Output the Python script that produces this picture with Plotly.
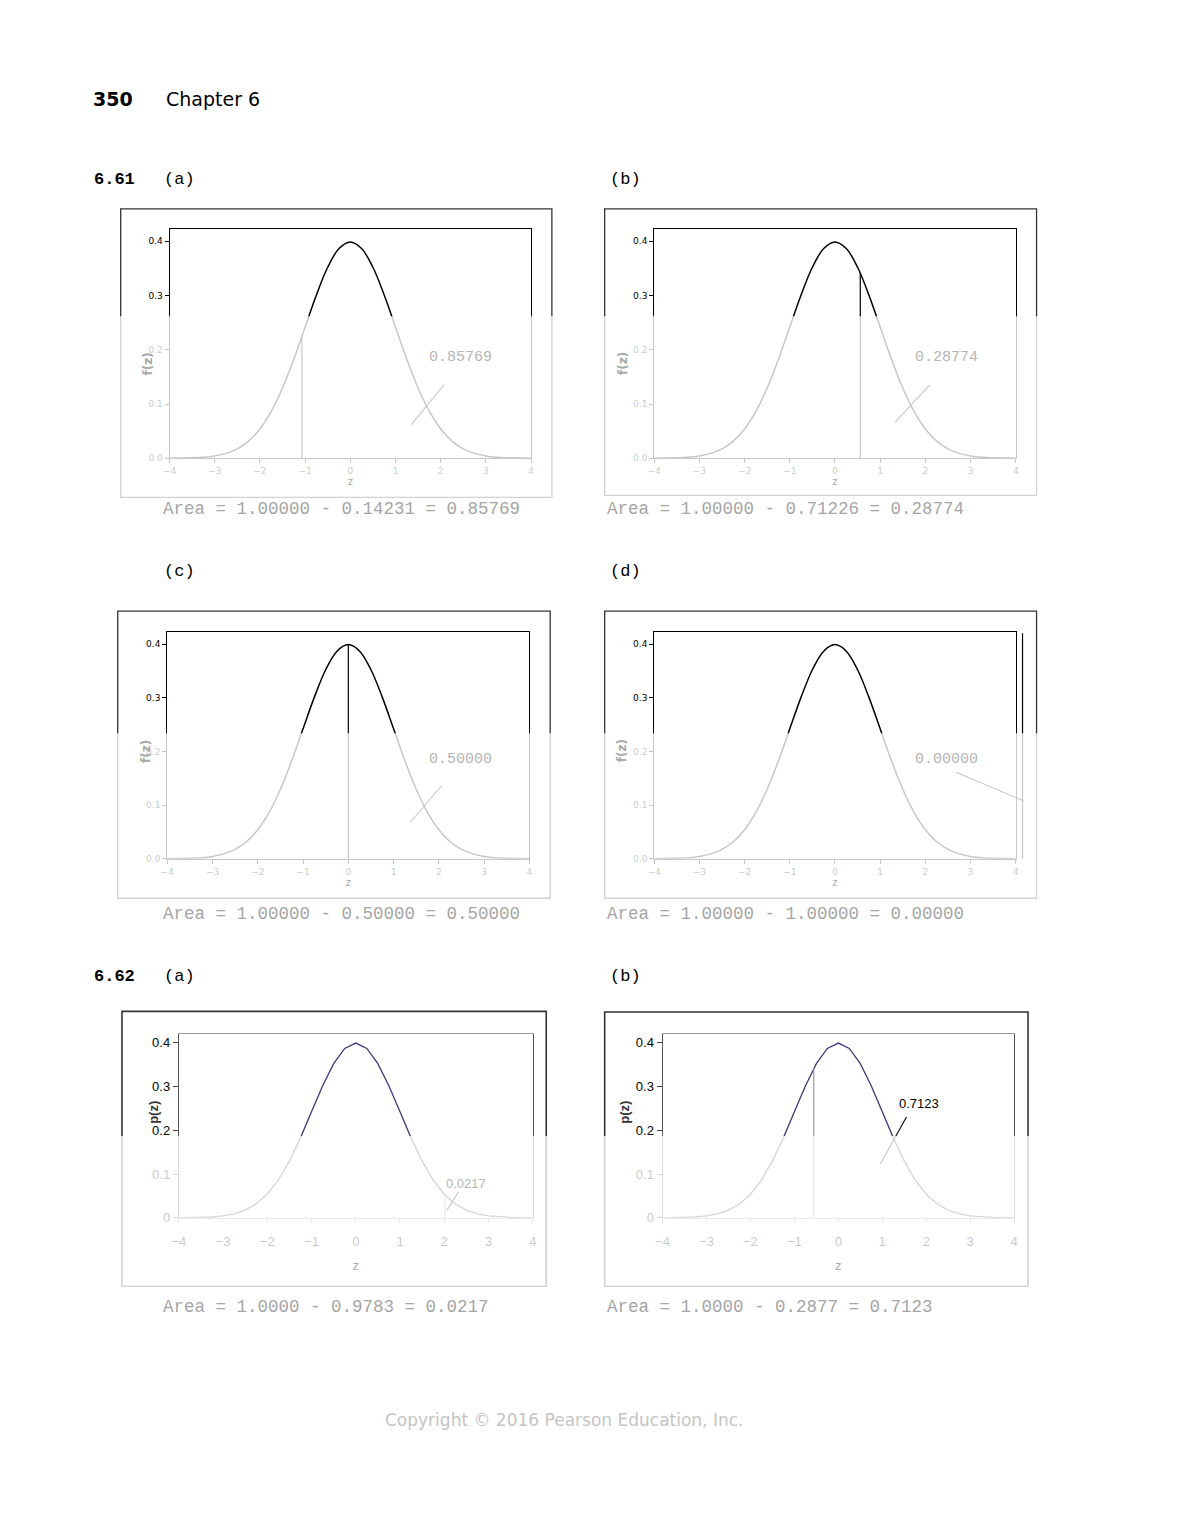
import plotly.graph_objects as go

# page is 1180x1527; the default 8px body margin is left around the figure
PAGE_W, PAGE_H = 1180, 1527
OFF = 8
W, H = PAGE_W - 2 * OFF, PAGE_H - 2 * OFF

# ---------------- data ----------------
z_values = [-4.0, -3.75, -3.5, -3.25, -3.0, -2.75, -2.5, -2.25, -2.0, -1.75, -1.5, -1.25,
            -1.0, -0.75, -0.5, -0.25, 0.0, 0.25, 0.5, 0.75, 1.0, 1.25, 1.5, 1.75,
            2.0, 2.25, 2.5, 2.75, 3.0, 3.25, 3.5, 3.75, 4.0]
density_values = [0.0001, 0.0004, 0.0009, 0.0020, 0.0044, 0.0091, 0.0175, 0.0317, 0.0540,
                  0.0863, 0.1295, 0.1826, 0.2420, 0.3011, 0.3521, 0.3867, 0.3989, 0.3867,
                  0.3521, 0.3011, 0.2420, 0.1826, 0.1295, 0.0863, 0.0540, 0.0317, 0.0175,
                  0.0091, 0.0044, 0.0020, 0.0009, 0.0004, 0.0001]

cut_z = [-1.07, 0.56, 0.00, 4.15, 2.02, -0.56]
cut_top = [0.2251, 0.3410, 0.3989, 0.4200, 0.0519, 0.3410]
area_labels = ["0.85769", "0.28774", "0.50000", "0.00000", "0.0217", "0.7123"]
captions = ["Area = 1.00000 - 0.14231 = 0.85769",
            "Area = 1.00000 - 0.71226 = 0.28774",
            "Area = 1.00000 - 0.50000 = 0.50000",
            "Area = 1.00000 - 1.00000 = 0.00000",
            "Area = 1.0000 - 0.9783 = 0.0217",
            "Area = 1.0000 - 0.2877 = 0.7123"]
x_ticks = [-4, -3, -2, -1, 0, 1, 2, 3, 4]
y_ticks = [0.0, 0.1, 0.2, 0.3, 0.4]
y_ticktext_minitab = ["0.0", "0.1", "0.2", "0.3", "0.4"]
y_ticktext_excel = ["0", "0.1", "0.2", "0.3", "0.4"]

# ---------------- layout / style config (page pixel coordinates) ----------------
style = ["minitab"] * 4 + ["excel"] * 2
inner = [(164, 529, 230, 460.7), (653.3, 1018.3, 230, 460.7),
         (161.7, 527.3, 635, 863.3), (653.3, 1018.3, 635, 863.3),
         (173.3, 530.7, 1039.3, 1224.3), (661.7, 1016.7, 1039.3, 1224.3)]
outer = [(114.7, 550, 210, 500), (603.3, 1039.3, 210, 498),
         (111.7, 548.3, 614.3, 903), (603.3, 1039.3, 614.3, 903),
         (116, 544.3, 1016.7, 1293), (603.3, 1030.7, 1017.3, 1293)]
ymax = [0.423] * 4 + [0.42] * 2
label_pos = [(2.44, 0.185), (2.46, 0.185), (2.47, 0.185), (2.46, 0.185), (2.5, 0.078), (1.84, 0.26)]
leaders = [((2.08, 0.136), (1.35, 0.062)), ((2.10, 0.136), (1.33, 0.066)),
           ((2.06, 0.136), (1.37, 0.068)), ((2.68, 0.161), (4.17, 0.108)),
           ((2.32, 0.059), (2.06, 0.017)), ((1.55, 0.23), (0.955, 0.123))]
caption_pos = [(155, 512), (604, 512), (155, 919), (604, 919), (155, 1314), (604, 1314)]
ytitle_pos = [(133, 352), (621, 352), (131, 755), (621, 755), (138, 1132), (623, 1132)]
ytitle_text = ["<b>f(z)</b>"] * 4 + ["<b>p(z)</b>"] * 2
blurred_label = [True, True, True, True, True, False]


def px(x):
    return (x - OFF) / W


def py(y):
    return 1 - (y - OFF) / H


fig = go.Figure()
layout = {}
annotations = []
shapes = []

for i in range(6):
    sfx = "" if i == 0 else str(i + 1)
    xa, ya = "x" + sfx, "y" + sfx
    l, r, t, b = inner[i]
    mt = style[i] == "minitab"

    # density curve
    fig.add_trace(go.Scatter(
        x=z_values, y=density_values, mode="lines",
        line=dict(color="black" if mt else "#3a3a78", width=1.5 if mt else 1.3,
                  shape="spline" if mt else "linear", smoothing=1.0),
        xaxis=xa, yaxis=ya, hoverinfo="skip", showlegend=False))

    line_xa = "x7" if i == 3 else xa
    # vertical cut line
    fig.add_trace(go.Scatter(
        x=[cut_z[i], cut_z[i]], y=[0, cut_top[i]], mode="lines",
        line=dict(color="black" if mt else "#999999", width=1.2),
        xaxis=line_xa, yaxis=ya, hoverinfo="skip", showlegend=False))
    # leader line
    (x0, y0), (x1, y1) = leaders[i]
    fig.add_trace(go.Scatter(
        x=[x0, x1], y=[y0, y1], mode="lines",
        line=dict(color="black", width=1.1),
        xaxis=line_xa, yaxis=ya, hoverinfo="skip", showlegend=False))

    xkey = "xaxis" + sfx
    ykey = "yaxis" + sfx
    if mt:
        layout[xkey] = dict(
            domain=[px(l), px(r)], range=[-4, 4], anchor=ya,
            tickvals=x_ticks, ticks="outside", ticklen=4, tickcolor="black",
            showline=True, mirror=True, linecolor="black", linewidth=1,
            showgrid=False, zeroline=False,
            tickfont=dict(family="DejaVu Sans", size=9, color="black"),
            title=dict(text="z", font=dict(family="DejaVu Sans", size=10, color="#aaaaaa"), standoff=2))
        layout[ykey] = dict(
            domain=[py(b), py(t)], range=[0, ymax[i]], anchor=xa,
            tickvals=y_ticks, ticktext=y_ticktext_minitab, ticks="outside", ticklen=4,
            tickcolor="black", showline=True, mirror=True, linecolor="black", linewidth=1,
            showgrid=False, zeroline=False,
            tickfont=dict(family="DejaVu Sans", size=9, color="black"))
    else:
        layout[xkey] = dict(
            domain=[px(l), px(r)], range=[-4, 4], anchor=ya,
            tickvals=x_ticks, ticks="outside", ticklen=4, tickcolor="#888888",
            ticklabelstandoff=8,
            showline=True, mirror=True, linecolor="#999999", linewidth=1,
            showgrid=False, zeroline=False,
            tickfont=dict(family="Liberation Sans", size=13, color="black"),
            title=dict(text="z", font=dict(family="Liberation Sans", size=13, color="#aaaaaa"), standoff=12))
        layout[ykey] = dict(
            domain=[py(b), py(t)], range=[0, ymax[i]], anchor=xa,
            tickvals=y_ticks, ticktext=y_ticktext_excel, ticks="outside", ticklen=5,
            tickcolor="#444444", showline=True, mirror=True, linecolor="#555555", linewidth=1,
            showgrid=False, zeroline=False,
            tickfont=dict(family="Liberation Sans", size=13, color="black"))

    # outer graph box
    ol, orr, ot, ob = outer[i]
    shapes.append(dict(type="rect", xref="paper", yref="paper",
                       x0=px(ol), x1=px(orr), y0=py(ob), y1=py(ot),
                       line=dict(color="#333333", width=1.3 if mt else 1.6), layer="below"))

    # area label
    lx, ly = label_pos[i]
    annotations.append(dict(
        x=lx, y=ly, xref=xa, yref=ya, text=area_labels[i], showarrow=False,
        font=dict(family="Liberation Mono" if mt else "Liberation Sans",
                  size=15 if mt else 13,
                  color="#b5b5b5" if blurred_label[i] else "black")))

    # y title
    tx, ty = ytitle_pos[i]
    annotations.append(dict(
        x=px(tx), y=py(ty), xref="paper", yref="paper", text=ytitle_text[i],
        showarrow=False, textangle=-90,
        font=dict(family="DejaVu Sans" if mt else "Liberation Sans", size=12 if mt else 13,
                  color="#a8a8a8" if mt else "#333333")))

    # caption (blurred)
    cx, cy = caption_pos[i]
    annotations.append(dict(
        x=px(cx), y=py(cy), xref="paper", yref="paper", text=captions[i],
        showarrow=False, xanchor="left", yanchor="middle",
        font=dict(family="Liberation Mono", size=17.5, color="#a5a5a5")))

# extra invisible axis for panel (d) so the line beyond the frame can be drawn
dl, dr, dt, db = inner[3]
extra_px = 14
layout["xaxis7"] = dict(domain=[px(dl), px(dr + extra_px)],
                        range=[-4, 4 + 8 * extra_px / (dr - dl)],
                        anchor="y4", visible=False)

# page texts
page_texts = [
    ("<b>350</b>", 85, 99, "DejaVu Sans", 19, "black"),
    ("Chapter 6", 158, 99, "DejaVu Sans", 19, "black"),
    ("<b>6.61</b>", 86, 180, "Liberation Mono", 17, "black"),
    ("(a)", 156, 180, "Liberation Mono", 17, "black"),
    ("(b)", 607, 180, "Liberation Mono", 17, "black"),
    ("(c)", 156, 575, "Liberation Mono", 17, "black"),
    ("(d)", 607, 575, "Liberation Mono", 17, "black"),
    ("<b>6.62</b>", 86, 982, "Liberation Mono", 17, "black"),
    ("(a)", 156, 982, "Liberation Mono", 17, "black"),
    ("(b)", 607, 982, "Liberation Mono", 17, "black"),
]
for txt, x, y, fam, sz, col in page_texts:
    annotations.append(dict(x=px(x), y=py(y), xref="paper", yref="paper", text=txt,
                            showarrow=False, xanchor="left", yanchor="middle",
                            font=dict(family=fam, size=sz, color=col)))

annotations.append(dict(x=px(562), y=py(1428), xref="paper", yref="paper",
                        text="Copyright © 2016 Pearson Education, Inc.",
                        showarrow=False, xanchor="center", yanchor="middle",
                        font=dict(family="DejaVu Sans", size=17, color="#c4c4c4")))

# faded (blurred) regions of the page
fade_regions = [(107, 557, 318, 527), (597, 1047, 318, 527),
                (104, 556, 737, 936), (597, 1047, 737, 936),
                (107, 552, 1142, 1325), (597, 1040, 1142, 1325)]
for (l, r, t, b) in fade_regions:
    shapes.append(dict(type="rect", xref="paper", yref="paper",
                       x0=px(l), x1=px(r), y0=py(b), y1=py(t),
                       fillcolor="white", opacity=0.78, line=dict(width=0), layer="above"))

fig.update_layout(
    width=W, height=H, margin=dict(l=0, r=0, t=0, b=0),
    paper_bgcolor="white", plot_bgcolor="rgba(0,0,0,0)",
    showlegend=False, annotations=annotations, shapes=shapes, **layout)

fig.write_html("out.html", config={"displayModeBar": False})
